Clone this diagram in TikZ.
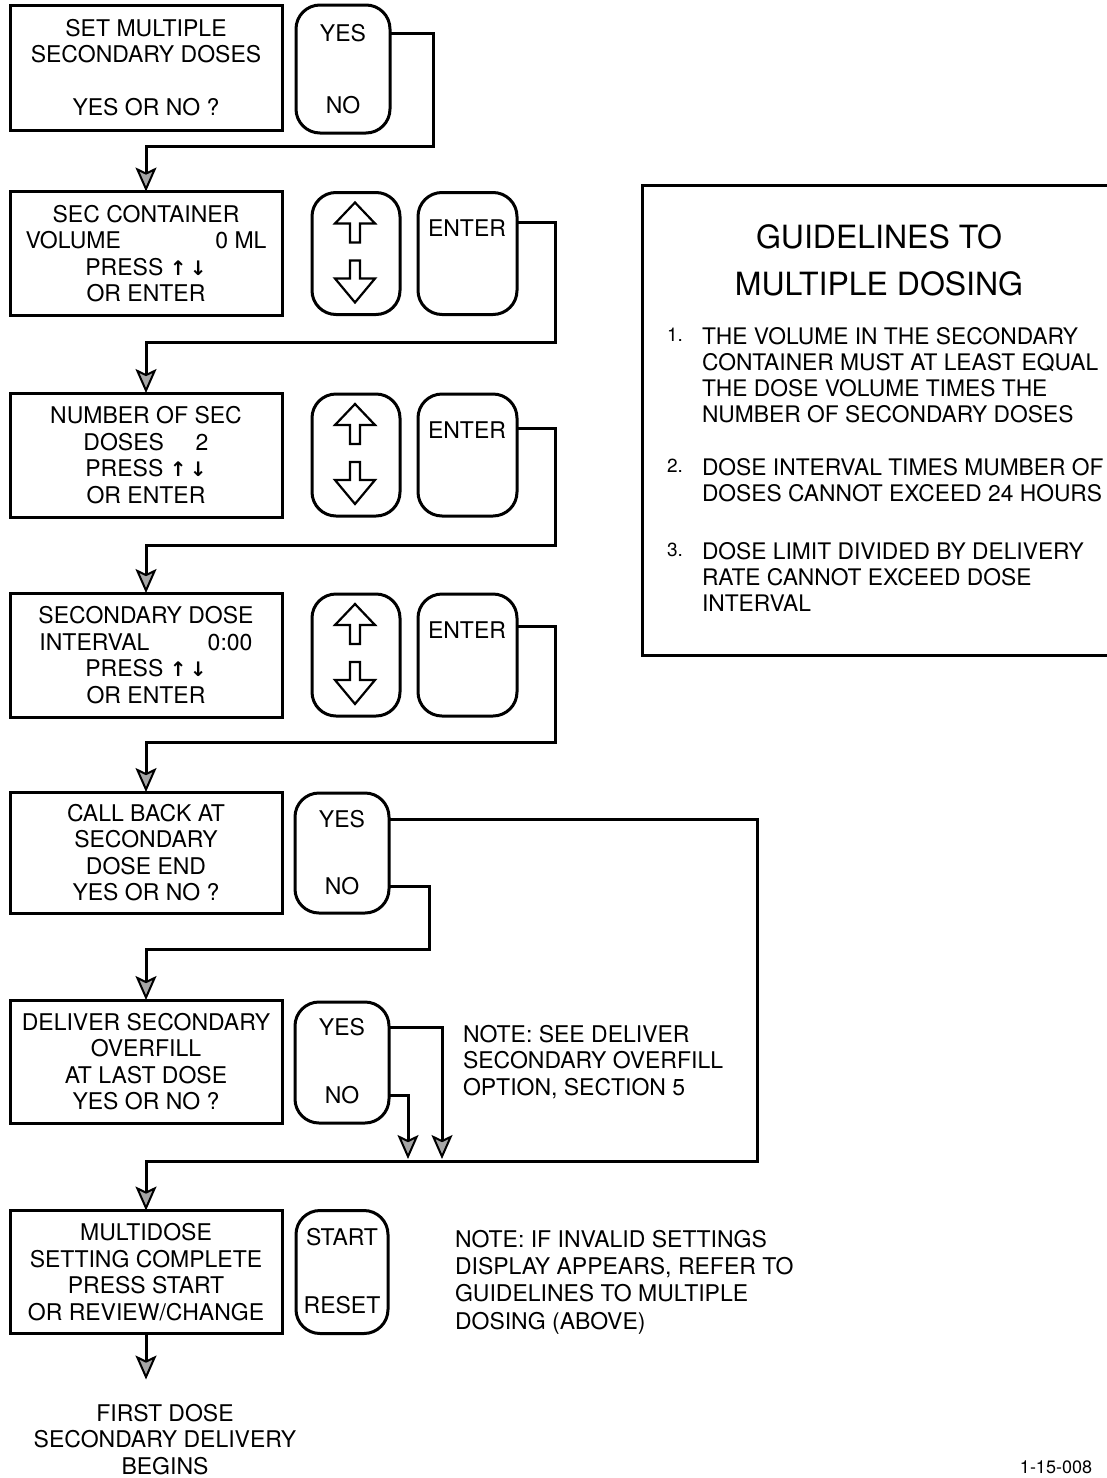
\documentclass[tikz,border=0pt]{standalone}
\usepackage{fontspec}
\setmainfont{TeX Gyre Heros}
\newfontfamily\arrowfont{DejaVu Sans}
\usetikzlibrary{arrows.meta,calc}
\begin{document}
\begin{tikzpicture}[x=0.5pt,y=-0.5pt,
  every node/.style={inner sep=0pt,outer sep=0pt},
  txt/.style={font=\fontsize{11.5}{13.25}\selectfont, align=center},
  box/.style={txt, draw, line width=1.5pt, minimum width=136pt, minimum height=62pt},
  btn/.style={draw, line width=1.5pt, rounded corners=12pt, minimum height=61pt},
  line/.style={line width=1.5pt},
  arr/.style={line, -{Stealth[length=12pt,width=10.5pt,inset=2.5pt,line width=1pt,fill=gray!70]}},
  note/.style={font=\fontsize{11.5}{13.4}\selectfont, align=left, anchor=north west},
  gl/.style={font=\fontsize{11.4}{13}\selectfont, align=left, anchor=north west},
  num/.style={font=\fontsize{9.5}{13}\selectfont, anchor=north west},
  udarr/.style={line width=1.1pt, line join=miter},
]
\useasboundingbox (0,0) rectangle (1107,1478);

% ---------- row 1
\node[box, minimum height=62.5pt] (b1) at (146,67.5) {SET MULTIPLE\\SECONDARY DOSES\\[13pt]YES OR NO ?};
\node[btn, minimum width=47pt, minimum height=64pt] (k1) at (343,69) {};
\node[txt] (y1) at ($(k1.north)+(0,28)$) {YES};
\node[txt] (n1) at ($(k1.south)+(0,-28)$) {NO};

% ---------- row 2
\node[box] (b2) at (146,253.5) {SEC CONTAINER\\\makebox[120.5pt]{VOLUME\hfill 0 ML}\\PRESS {\arrowfont\bfseries\fontsize{10}{10}\selectfont ↑\,↓}\\OR ENTER};
\node[btn, minimum width=44pt] (u2) at (356,253.5) {};
\node[btn, minimum width=49.5pt] (e2) at (467.5,253.5) {};
\node[txt, anchor=west] (et2) at ($(e2.north west)+(10,36)$) {ENTER};

% ---------- row 3
\node[box] (b3) at (146,455) {NUMBER OF SEC\\\makebox[62.5pt]{DOSES\hfill 2}\\PRESS {\arrowfont\bfseries\fontsize{10}{10}\selectfont ↑\,↓}\\OR ENTER};
\node[btn, minimum width=44pt] (u3) at (356,455) {};
\node[btn, minimum width=49.5pt] (e3) at (467.5,455) {};
\node[txt, anchor=west] (et3) at ($(e3.north west)+(10,36)$) {ENTER};

% ---------- row 4
\node[box] (b4) at (146,655) {SECONDARY DOSE\\\makebox[106.5pt]{INTERVAL\hfill 0:00}\\PRESS {\arrowfont\bfseries\fontsize{10}{10}\selectfont ↑\,↓}\\OR ENTER};
\node[btn, minimum width=44pt] (u4) at (356,655) {};
\node[btn, minimum width=49.5pt] (e4) at (467.5,655) {};
\node[txt, anchor=west] (et4) at ($(e4.north west)+(10,36)$) {ENTER};

% up / down symbols on the arrow keys
\foreach \n in {u2,u3,u4}{
  \draw[udarr] ($(\n.north)+(-1,10)$) -- ++(20,21) -- ++(-15,0) -- ++(0,19) -- ++(-10,0)
     -- ++(0,-19) -- ++(-15,0) -- cycle;
  \draw[udarr] ($(\n.north)+(-6,68)$) -- ++(10,0) -- ++(0,18) -- ++(15,0) -- ++(-20,24)
     -- ++(-20,-24) -- ++(15,0) -- cycle;
}

% ---------- row 5
\node[box, minimum height=60.5pt] (b5) at (146,852.5) {CALL BACK AT\\SECONDARY\\DOSE END\\YES OR NO ?};
\node[btn, minimum width=47pt, minimum height=60pt] (k5) at (342,853) {};
\node[txt] (y5) at ($(k5.north)+(0,26)$) {YES};
\node[txt] (n5) at ($(k5.south)+(0,-27)$) {NO};

% ---------- row 6
\node[box, minimum height=61.5pt] (b6) at (146,1061.5) {DELIVER SECONDARY\\OVERFILL\\AT LAST DOSE\\YES OR NO ?};
\node[btn, minimum width=47pt, minimum height=60.5pt] (k6) at (342,1062.5) {};
\node[txt] (y6) at ($(k6.north)+(0,25)$) {YES};
\node[txt] (n6) at ($(k6.south)+(0,-28)$) {NO};
\node[note] (nt1) at (463,1025) {NOTE: SEE DELIVER\\SECONDARY OVERFILL\\OPTION, SECTION 5};

% ---------- row 7
\node[box, minimum height=61.5pt] (b7) at (146,1272) {MULTIDOSE\\SETTING COMPLETE\\PRESS START\\OR REVIEW/CHANGE};
\node[btn, minimum width=46pt, minimum height=61.5pt] (k7) at (342,1272) {};
\node[txt] (y7) at ($(k7.north)+(0,27)$) {START};
\node[txt] (n7) at ($(k7.south)+(0,-28)$) {RESET};
\node[note, font=\fontsize{11.5}{13.7}\selectfont] (nt2) at (455,1230) {NOTE: IF INVALID SETTINGS\\DISPLAY APPEARS, REFER TO\\GUIDELINES TO MULTIPLE\\DOSING (ABOVE)};
\node[txt, anchor=north, font=\fontsize{11.5}{13.25}\selectfont] (fin) at (165,1404) {FIRST DOSE\\SECONDARY DELIVERY\\BEGINS};

% ---------- connectors
\coordinate (r1) at (433,146);
\coordinate (r2) at (555,342);
\coordinate (r3) at (555,545);
\coordinate (r4) at (555,742);
\coordinate (r5y) at (757,1161);
\coordinate (r5n) at (429,949);
\coordinate (t6y) at (442,1159);
\coordinate (t6n) at (408,1159);
\coordinate (e7) at ($(b7.south)+(0,46)$);

\draw[arr] (k1.east |- y1) -| (r1) -| (b2.north);
\draw[arr] ($(e2.north east)+(0,30)$) -| (r2) -| (b3.north);
\draw[arr] ($(e3.north east)+(0,34)$) -| (r3) -| (b4.north);
\draw[arr] ($(e4.north east)+(0,32)$) -| (r4) -| (b5.north);
\draw[arr] (k5.east |- y5) -| (r5y) -| (b7.north);
\draw[arr] (k5.east |- n5) -| (r5n) -| (b6.north);
\draw[arr] (k6.east |- y6) -| (t6y);
\draw[arr] (k6.east |- n6) -| (t6n);
\draw[arr] (b7.south) -- (e7);

% ---------- guidelines panel
\draw[line] (1120,185) -- (642,185) -- (642,655) -- (1120,655);
\node[font=\fontsize{16}{23.5}\selectfont, align=center, anchor=north] (gt) at (879,225) {GUIDELINES TO\\MULTIPLE DOSING};
\node[num] (g1n) at (667,328) {1.};
\node[gl] (g1) at (702,327) {THE VOLUME IN THE SECONDARY\\CONTAINER MUST AT LEAST EQUAL\\THE DOSE VOLUME TIMES THE\\NUMBER OF SECONDARY DOSES};
\node[num] (g2n) at (667,459) {2.};
\node[gl] (g2) at (702,458) {DOSE INTERVAL TIMES MUMBER OF\\DOSES CANNOT EXCEED 24 HOURS};
\node[num] (g3n) at (667,543) {3.};
\node[gl] (g3) at (702,542) {DOSE LIMIT DIVIDED BY DELIVERY\\RATE CANNOT EXCEED DOSE\\INTERVAL};

\node[font=\fontsize{9}{10}\selectfont, anchor=base] (lbl) at (1056,1473) {1-15-008};
\end{tikzpicture}
\end{document}
